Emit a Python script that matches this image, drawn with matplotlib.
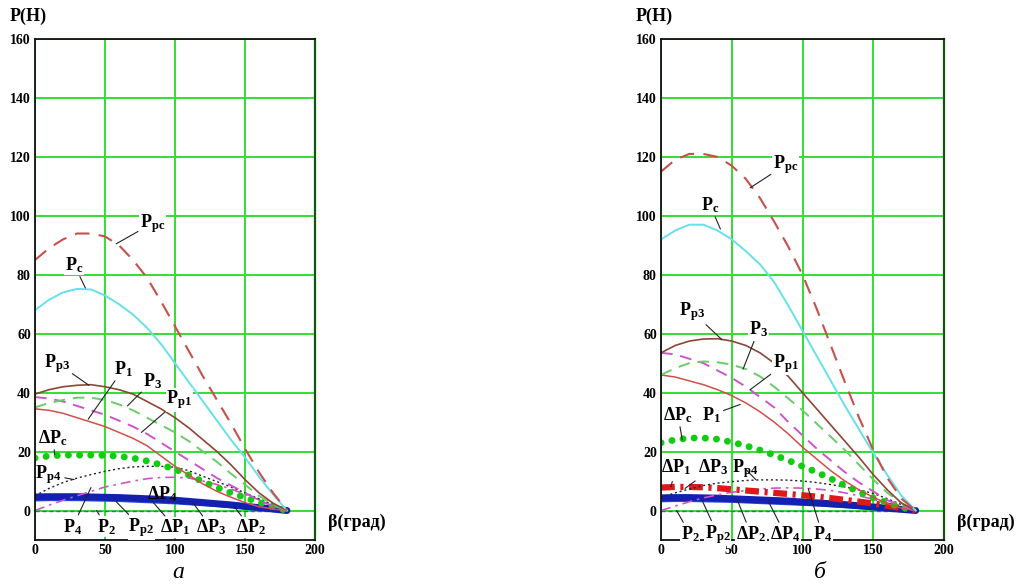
import matplotlib
matplotlib.use('Agg')
import matplotlib.pyplot as plt

beta = list(range(0, 190, 10))

# panel "а"
a_Ppc = [85, 89, 92, 94, 94, 93, 90, 85, 79, 71, 62.5, 54, 45.5, 37.5, 29.5, 21, 13, 6, 0]
a_Pc = [68, 71.5, 74, 75.2, 75, 73, 70, 66.5, 62, 56.5, 50, 43.5, 37, 30.5, 24, 18, 11.5, 5.5, 0]
a_Pp3 = [39.5, 41, 42, 42.5, 42.7, 42, 41, 39.5, 37, 34.5, 31.5, 28, 24, 20, 15.5, 10.5, 6, 2.5, 0]
a_P1 = [34.5, 34, 33, 31.5, 30, 28.5, 26.5, 24.5, 22, 18.5, 15, 12, 9, 6.5, 4.5, 2.7, 1.3, 0.5, 0]
a_P3 = [35, 36.5, 37.5, 38.3, 38.3, 37.5, 36, 34, 31.5, 29, 26.5, 23.5, 20, 16.5, 12.5, 8.8, 5, 2, 0]
a_Pp1 = [38.5, 38, 37, 35.5, 34, 32.5, 30.5, 28.5, 26, 23, 20, 17, 14, 11, 8.5, 6, 3.5, 1.5, 0]
a_dPc = [17.8, 18.5, 18.8, 18.8, 18.8, 18.7, 18.4, 17.8, 16.8, 15.5, 14, 12, 9.8, 7.8, 6, 4.4, 2.8, 1.3, 0]
a_Pp4 = [5, 7.5, 9.5, 11, 12.2, 13.3, 14.2, 14.8, 15, 15, 14.7, 13.5, 11.6, 9.8, 8, 6, 4, 2, 0]
a_P4 = [0, 1.8, 3.5, 5, 6.5, 8, 9, 10, 10.8, 11.2, 11.3, 11, 10, 8.8, 7.3, 5.5, 3.6, 1.6, 0]
a_dP1 = [4.6, 4.7, 4.7, 4.7, 4.6, 4.5, 4.4, 4.2, 4.0, 3.8, 3.5, 3.1, 2.7, 2.3, 1.9, 1.4, 1.0, 0.5, 0]
a_dP3 = [3.9, 4.0, 4.0, 4.0, 3.9, 3.8, 3.7, 3.5, 3.3, 3.1, 2.9, 2.6, 2.3, 2.0, 1.6, 1.2, 0.8, 0.4, 0]
a_P2 = [0] * 19

# panel "б"
b_Ppc = [115, 119, 121, 121, 120, 117, 112.5, 106, 98, 89.5, 80, 68.5, 56, 43.5, 31.5, 20.5, 11, 4, 0]
b_Pc = [92, 95, 97, 97, 95, 92, 88, 83.5, 77.5, 69.5, 61, 52.5, 44, 35.5, 27.5, 19.5, 12, 5, 0]
b_Pp3 = [53.5, 56, 57.5, 58.2, 58.3, 57.5, 56, 53.5, 50, 45.5, 40, 34.5, 29, 23.5, 18, 12.2, 7, 2.5, 0]
b_P3 = [46, 48.3, 50, 50.6, 50.3, 49.5, 48, 45.5, 42, 38, 34, 29.5, 25, 20.5, 15.5, 10.5, 6, 2.5, 0]
b_Pp1 = [53.5, 53, 51.5, 50, 47.5, 45, 42, 38.5, 35, 30, 25.5, 21, 17, 13, 9.5, 6.5, 3.5, 1.5, 0]
b_P1 = [46, 45.3, 44, 42.7, 41, 39, 36.5, 33.5, 30, 26, 21.5, 17.5, 13.5, 10, 7, 4.5, 2.3, 0.8, 0]
b_dPc = [23, 24, 24.6, 24.6, 24.2, 23.2, 22, 20.5, 18.8, 17, 15, 13, 10.8, 8.5, 6.3, 4.3, 2.6, 1.1, 0]
b_dP1 = [7.8, 8, 8, 7.9, 7.6, 7.2, 6.8, 6.4, 6, 5.6, 5.2, 4.7, 4.2, 3.6, 3, 2.4, 1.6, 0.8, 0]
b_Pp4 = [4.5, 6, 7.3, 8.5, 9.3, 9.8, 10.2, 10.4, 10.4, 10.3, 10, 9.5, 8.8, 8, 7, 5.8, 4, 2, 0]
b_P4 = [0, 1.5, 3, 4.3, 5.3, 6.2, 6.8, 7.3, 7.6, 7.7, 7.6, 7.3, 6.8, 6, 5, 3.8, 2.5, 1.2, 0]
b_dP2 = [4.3, 4.4, 4.4, 4.3, 4.2, 4.0, 3.8, 3.6, 3.4, 3.2, 2.9, 2.6, 2.3, 2.0, 1.6, 1.2, 0.8, 0.4, 0]
b_dP4 = [3.6, 3.7, 3.7, 3.6, 3.5, 3.4, 3.2, 3.0, 2.8, 2.6, 2.4, 2.2, 1.9, 1.6, 1.3, 1.0, 0.6, 0.3, 0]
b_P2 = [0] * 19

plt.rcParams['font.family'] = ['Liberation Serif', 'DejaVu Serif']
plt.rcParams['mathtext.fontset'] = 'custom'
plt.rcParams['mathtext.rm'] = 'Liberation Serif:bold'
plt.rcParams['mathtext.it'] = 'Liberation Serif:italic:bold'
plt.rcParams['mathtext.bf'] = 'Liberation Serif:bold'

fig = plt.figure(figsize=(10.16, 5.85), dpi=100)
ax_a = fig.add_axes([35 / 1016, 45 / 585, 280 / 1016, 501 / 585])
ax_b = fig.add_axes([661 / 1016, 45 / 585, 283 / 1016, 501 / 585])


def style(ax):
    ax.set_xlim(0, 200)
    ax.set_ylim(-10, 160)
    ax.set_xticks([0, 50, 100, 150, 200])
    ax.set_yticks(range(0, 161, 20))
    ax.grid(True, color='#33dd33', lw=1.4)
    ax.set_axisbelow(True)
    ax.tick_params(length=0, labelsize=10, pad=3)
    for lab in ax.get_xticklabels() + ax.get_yticklabels():
        lab.set_fontweight('bold')
    for s in ['left', 'top', 'bottom']:
        ax.spines[s].set_color('#111111')
        ax.spines[s].set_linewidth(1.3)
    ax.spines['right'].set_color('#115511')
    ax.spines['right'].set_linewidth(1.6)
    ax.text(-0.025, 1.045, 'P(H)', transform=ax.transAxes, fontsize=13,
            fontweight='bold', ha='center', va='center')
    ax.text(1.045, 0.036, 'β(град)', transform=ax.transAxes, fontsize=13,
            fontweight='bold', ha='left', va='center')


def label(ax, txt, xy, xytext, box=True):
    kw = {}
    if box:
        kw['bbox'] = dict(facecolor='white', edgecolor='none', pad=0.5)
    ax.annotate(txt, xy=xy, xytext=xytext, ha='center', va='center', fontsize=13,
                arrowprops=dict(arrowstyle='-', color='#222222', lw=0.8,
                                shrinkA=1, shrinkB=0), **kw)


dots = (0, (0.01, 1.6))

# ---- panel a ----
ax = ax_a
style(ax)
ax.plot(beta, a_P2, color='#2f6fa0', lw=1, ls=(0, (3, 2)))
ax.plot(beta, a_dP3, color='#2a4be0', lw=3.5, solid_capstyle='round')
ax.plot(beta, a_dP1, color='#1420b0', lw=5, solid_capstyle='round')
ax.plot(beta, a_P4, color='#cc55cc', lw=1.2, ls=(0, (6, 3, 1.5, 3)))
ax.plot(beta, a_Pp4, color='#222222', lw=1, ls=(0, (1.5, 2)))
ax.plot(beta, a_dPc, color='#11cc11', lw=5, ls=dots, dash_capstyle='round')
ax.plot(beta, a_P1, color='#d0504a', lw=1.1)
ax.plot(beta, a_Pp1, color='#cc55cc', lw=1.4, ls=(0, (6, 4)))
ax.plot(beta, a_P3, color='#6acc6a', lw=1.4, ls=(0, (6, 4)))
ax.plot(beta, a_Pp3, color='#8c4636', lw=1.2)
ax.plot(beta, a_Pc, color='#66e0ea', lw=1.4)
ax.plot(beta, a_Ppc, color='#c8504a', lw=1.5, ls=(0, (7, 4.5)))

label(ax, r'$\mathrm{P_{pc}}$', (58, 90.5), (84, 97.5))
label(ax, r'$\mathrm{P_c}$', (36, 75.5), (28, 83.4))
label(ax, r'$\mathrm{P_{p3}}$', (38.5, 42.5), (16, 50))
label(ax, r'$\mathrm{P_1}$', (38, 31), (63, 48))
label(ax, r'$\mathrm{P_3}$', (66, 35.5), (84, 44))
label(ax, r'$\mathrm{P_{p1}}$', (76, 26.5), (103, 37.6))
label(ax, r'$\Delta\mathrm{P_c}$', (14, 19), (13, 24.7))
label(ax, r'$\mathrm{P_{p4}}$', (28, 10.5), (9, 12.2), box=False)
label(ax, r'$\Delta\mathrm{P_4}$', (105, 2.5), (91, 5.5), box=False)
label(ax, r'$\mathrm{P_4}$', (40, 7.8), (27, -5.5))
label(ax, r'$\mathrm{P_2}$', (44, 0), (51, -5.5))
label(ax, r'$\mathrm{P_{p2}}$', (58, 3), (76, -5.8))
label(ax, r'$\Delta\mathrm{P_1}$', (84, 3), (100, -5.8))
label(ax, r'$\Delta\mathrm{P_3}$', (113, 2.5), (126, -5.8))
label(ax, r'$\Delta\mathrm{P_2}$', (142, 1.5), (154, -5.8))

# ---- panel b ----
ax = ax_b
style(ax)
ax.plot(beta, b_P2, color='#2f6fa0', lw=1, ls=(0, (3, 2)))
ax.plot(beta, b_dP4, color='#2a4be0', lw=3.5, solid_capstyle='round')
ax.plot(beta, b_dP2, color='#1420b0', lw=5, solid_capstyle='round')
ax.plot(beta, b_P4, color='#cc55cc', lw=1.2, ls=(0, (6, 3, 1.5, 3)))
ax.plot(beta, b_dP1, color='#dd1a1a', lw=4.5, ls=(0, (2.2, 0.9, 0.5, 0.9)))
ax.plot(beta, b_Pp4, color='#222222', lw=1, ls=(0, (1.5, 2)))
ax.plot(beta, b_dPc, color='#11cc11', lw=5, ls=dots, dash_capstyle='round')
ax.plot(beta, b_P1, color='#d0504a', lw=1.1)
ax.plot(beta, b_Pp1, color='#cc55cc', lw=1.4, ls=(0, (6, 4)))
ax.plot(beta, b_P3, color='#6acc6a', lw=1.4, ls=(0, (6, 4)))
ax.plot(beta, b_Pp3, color='#8c4636', lw=1.2)
ax.plot(beta, b_Pc, color='#66e0ea', lw=1.4)
ax.plot(beta, b_Ppc, color='#c8504a', lw=1.5, ls=(0, (7, 4.5)))

label(ax, r'$\mathrm{P_{pc}}$', (63, 109.5), (88, 117.3))
label(ax, r'$\mathrm{P_c}$', (42, 95.5), (34.6, 103.7))
label(ax, r'$\mathrm{P_{p3}}$', (43, 58), (22, 67.5))
label(ax, r'$\mathrm{P_3}$', (58, 48), (69, 61.4))
label(ax, r'$\mathrm{P_{p1}}$', (63, 41), (88, 50))
label(ax, r'$\mathrm{P_1}$', (56, 36), (36, 32.5))
label(ax, r'$\Delta\mathrm{P_c}$', (15, 24), (12, 32.5))
label(ax, r'$\Delta\mathrm{P_1}$', (7, 8), (10.5, 14.6), box=False)
label(ax, r'$\Delta\mathrm{P_3}$', (17, 7.5), (37, 14.6), box=False)
label(ax, r'$\mathrm{P_{p4}}$', (67, 10.5), (59.5, 14.2), box=False)
label(ax, r'$\mathrm{P_2}$', (11, 0), (20.5, -8))
label(ax, r'$\mathrm{P_{p2}}$', (29, 3.5), (40, -8))
label(ax, r'$\Delta\mathrm{P_2}$', (54, 3.5), (63.6, -8))
label(ax, r'$\Delta\mathrm{P_4}$', (76, 3), (87.6, -8))
label(ax, r'$\mathrm{P_4}$', (104, 7.5), (114, -8))

fig.text(178 / 1016, 1 - 572 / 585, 'а', fontsize=17, style='italic', ha='center', va='center')
fig.text(820 / 1016, 1 - 572 / 585, 'б', fontsize=17, style='italic', ha='center', va='center')

fig.savefig('out.png', dpi=100)
